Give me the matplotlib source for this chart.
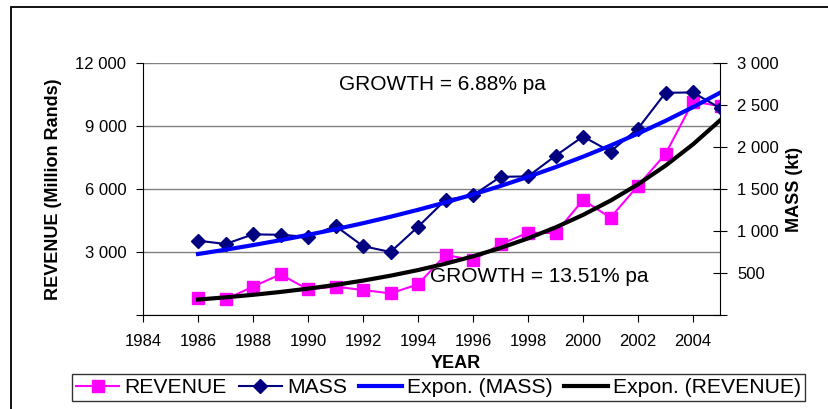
"""Revenue and mass over time with exponential trend lines."""

import matplotlib
matplotlib.use('Agg')
import matplotlib.pyplot as plt
import numpy as np
from matplotlib.patches import Rectangle
from matplotlib.ticker import FuncFormatter

plt.rcParams['font.family'] = ['Liberation Sans', 'DejaVu Sans']

# Values
years = [1986, 1987, 1988, 1989, 1990, 1991, 1992, 1993, 1994, 1995,
         1996, 1997, 1998, 1999, 2000, 2001, 2002, 2003, 2004, 2005]
revenue = [825, 745, 1350, 1935, 1220, 1350, 1190, 1030, 1460, 2860,
           2620, 3365, 3920, 3900, 5475, 4635, 6160, 7665, 10160, 9950]
mass = [885, 845, 960, 955, 930, 1060, 820, 750, 1050, 1370,
        1425, 1645, 1650, 1895, 2125, 1945, 2220, 2645, 2650, 2460]

x_ticks = list(range(1984, 2005, 2))
rev_ticks = [0, 3000, 6000, 9000, 12000]
mass_ticks = [0, 500, 1000, 1500, 2000, 2500, 3000]

growth_mass_text = 'GROWTH = 6.88% pa'
growth_rev_text = 'GROWTH = 13.51% pa'


def exp_trend(x, y):
    """Excel style exponential trend: linear fit on log(y)."""
    x = np.asarray(x, dtype=float)
    b, a = np.polyfit(x, np.log(np.asarray(y, dtype=float)), 1)
    return np.exp(a + b * x)


def thousands(v, pos):
    if v == 0:
        return ''
    return f'{int(v):,}'.replace(',', ' ')


W, H = 829, 409
fig = plt.figure(figsize=(W / 100, H / 100), dpi=100)
ax1 = fig.add_axes([143 / W, 1 - 315 / H, (720.5 - 143) / W, (315 - 63) / H])
ax2 = ax1.twinx()

# outer chart frame (cropped on right and bottom)
fig.add_artist(Rectangle((11 / W, -0.1), 1.2, 1 - 7 / H + 0.1,
                         transform=fig.transFigure, fill=False,
                         edgecolor='black', linewidth=1.3))

rev_line, = ax1.plot(years, revenue, color='#FF00FF', linewidth=1.5,
                     marker='s', markersize=8, markeredgecolor='#FF00FF',
                     label='REVENUE', zorder=3)
rev_trend, = ax1.plot(years, exp_trend(years, revenue), color='black',
                      linewidth=3, label='Expon. (REVENUE)', zorder=4)

mass_line, = ax2.plot(years, mass, color='#000080', linewidth=1.5,
                      marker='D', markersize=7, label='MASS', zorder=3)
mass_trend, = ax2.plot(years, exp_trend(years, mass), color='#0000FF',
                       linewidth=3, label='Expon. (MASS)', zorder=4)

ax1.set_xlim(1984, 2005)
ax1.set_ylim(0, 12000)
ax2.set_ylim(0, 3000)
ax1.set_xticks(x_ticks)
ax1.set_yticks(rev_ticks)
ax2.set_yticks(mass_ticks)
ax1.yaxis.set_major_formatter(FuncFormatter(thousands))
ax2.yaxis.set_major_formatter(FuncFormatter(thousands))

ax1.grid(axis='y', color='#808080', linewidth=1)
ax1.set_axisbelow(True)

for ax in (ax1, ax2):
    ax.spines['top'].set_visible(False)
ax1.spines['right'].set_visible(False)
ax2.spines['left'].set_visible(False)
ax2.spines['bottom'].set_visible(False)

ax1.tick_params(axis='x', direction='out', length=5, pad=9, labelsize=12)
ax1.tick_params(axis='y', direction='out', length=5, pad=7, labelsize=12)
ax2.tick_params(axis='y', direction='inout', length=10, pad=7, labelsize=12)

fig.text(54 / W, 1 - 189 / H, 'REVENUE (Million Rands)', rotation=90,
         ha='center', va='center', fontsize=13, fontweight='bold')
fig.text(795 / W, 1 - 189 / H, 'MASS (kt)', rotation=90,
         ha='center', va='center', fontsize=13, fontweight='bold')
fig.text(456 / W, 1 - 363 / H, 'YEAR', ha='center', va='center',
         fontsize=13, fontweight='bold')

ax1.text(1991.13, 11000, growth_mass_text, ha='left', va='center', fontsize=15)
ax1.text(1994.44, 1810, growth_rev_text, ha='left', va='center', fontsize=15)

leg = fig.legend(handles=[rev_line, mass_line, mass_trend, rev_trend],
                 loc='center', bbox_to_anchor=(438.5 / W, 1 - 387.5 / H),
                 ncol=4, fontsize=15.2, frameon=True, fancybox=False,
                 handlelength=2.05, handletextpad=0.25, columnspacing=0.55,
                 borderpad=0.2, borderaxespad=0)
leg.get_frame().set_edgecolor('black')
leg.get_frame().set_linewidth(1)

fig.savefig('out.png', dpi=100)
